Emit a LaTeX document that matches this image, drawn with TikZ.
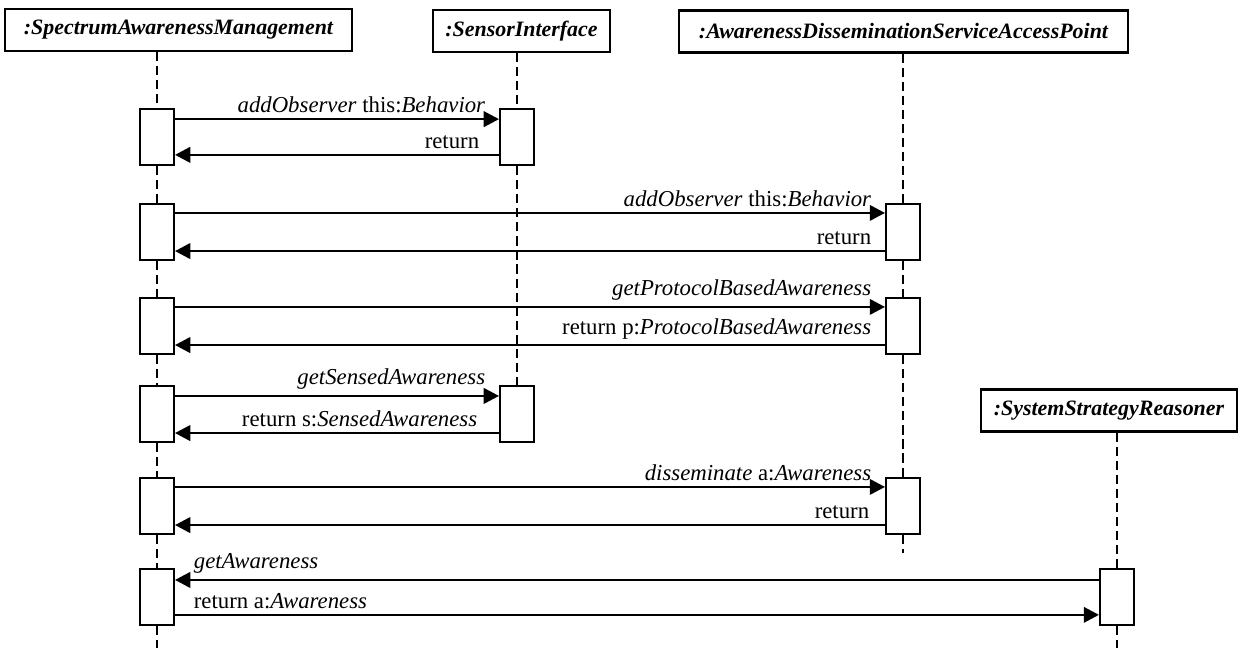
\documentclass[tikz,border=0pt]{standalone}
\usepackage{fontspec}
\setmainfont{Liberation Serif}
\usetikzlibrary{arrows.meta}

\begin{document}
\begin{tikzpicture}[
  x=0.025cm, y=-0.025cm,
  every node/.style={rectangle, sharp corners, align=center, font=\fontsize{16.2}{19}\selectfont},
  object/.style={draw, line width=1.5pt, fill=white, minimum height=1.05cm,
    font=\fontsize{15.6}{18}\selectfont\bfseries\itshape},
  lifeline/.style={dash pattern=on 6.5pt off 3.5pt, line width=1.3pt},
  act/.style={draw, fill=white, line width=1.5pt, minimum width=0.85cm, minimum height=1.4cm},
  msg/.style={-{Triangle[length=3.8mm, width=3.9mm]}, line width=1.4pt},
  lbl/.style={inner sep=2pt, yshift=0.06cm}
]
\useasboundingbox (0,0) rectangle (1241,648);

%% Object heads
\node[object, minimum width=8.675cm] (sam) at (178.5,30) {:SpectrumAwarenessManagement};
\node[object, minimum width=4.425cm] (si) at (521.5,31) {:SensorInterface};
\node[object, minimum width=11.225cm] (adsap) at (903.5,31.5) {:AwarenessDisseminationServiceAccessPoint};
\node[object, minimum width=6.4cm] (ssr) at (1109,410.5) {:SystemStrategyReasoner};

%% Lifeline ends
\coordinate (samEnd) at (157,648);
\coordinate (adEnd) at (903,553);
\coordinate (ssrEnd) at (1117,648);

%% Activations (left: SpectrumAwarenessManagement)
\node[act] (samA1) at (157,137) {};
\node[act] (samA2) at (157,232) {};
\node[act] (samA3) at (157,326) {};
\node[act] (samA4) at (157,414) {};
\node[act] (samA5) at (157,506) {};
\node[act] (samA6) at (157,597) {};

% Activations on the other lifelines
\node[act] (siA1) at (517,137) {};
\node[act] (adA2) at (903,232) {};
\node[act] (adA3) at (903,326) {};
\node[act] (siA4) at (517,414) {};
\node[act] (adA5) at (903,506) {};
\node[act] (ssrA6) at (1117,597) {};

%% Lifelines
\draw[lifeline] (samEnd |- sam.south) -- (samA1.north);
\draw[lifeline] (samA1.south) -- (samA2.north);
\draw[lifeline] (samA2.south) -- (samA3.north);
\draw[lifeline] (samA3.south) -- (samA4.north);
\draw[lifeline] (samA4.south) -- (samA5.north);
\draw[lifeline] (samA5.south) -- (samA6.north);
\draw[lifeline] (samA6.south) -- (samEnd);

\draw[lifeline] (siA1 |- si.south) -- (siA1.north);
\draw[lifeline] (siA1.south) -- (siA4.north);

\draw[lifeline] (adEnd |- adsap.south) -- (adA2.north);
\draw[lifeline] (adA2.south) -- (adA3.north);
\draw[lifeline] (adA3.south) -- (adA5.north);
\draw[lifeline] (adA5.south) -- (adEnd);

\draw[lifeline] (ssrEnd |- ssr.south) -- (ssrA6.north);
\draw[lifeline] (ssrA6.south) -- (ssrEnd);

%% Messages — addObserver on SensorInterface
\draw[msg] ([yshift=-0.28cm]samA1.north east) -- ([yshift=-0.28cm]siA1.north west)
  node[lbl, pos=1, above left, xshift=-0.25cm] {\textit{addObserver} this:\textit{Behavior}};
\draw[msg] ([yshift=0.28cm]siA1.south west) -- ([yshift=0.28cm]samA1.south east)
  node[lbl, pos=0, above left, xshift=-0.4cm] {return};

%% Messages — addObserver on access point
\draw[msg] ([yshift=-0.25cm]samA2.north east) -- ([yshift=-0.25cm]adA2.north west)
  node[lbl, pos=1, above left, xshift=-0.25cm] {\textit{addObserver} this:\textit{Behavior}};
\draw[msg] ([yshift=0.25cm]adA2.south west) -- ([yshift=0.25cm]samA2.south east)
  node[lbl, pos=0, above left, xshift=-0.25cm] {return};

%% Messages — protocol based awareness
\draw[msg] ([yshift=-0.25cm]samA3.north east) -- ([yshift=-0.25cm]adA3.north west)
  node[lbl, pos=1, above left, xshift=-0.25cm] {\textit{getProtocolBasedAwareness}};
\draw[msg] ([yshift=0.25cm]adA3.south west) -- ([yshift=0.25cm]samA3.south east)
  node[lbl, pos=0, above left, xshift=-0.25cm] {return p:\textit{ProtocolBasedAwareness}};

%% Messages — sensed awareness
\draw[msg] ([yshift=-0.275cm]samA4.north east) -- ([yshift=-0.275cm]siA4.north west)
  node[lbl, pos=1, above left, xshift=-0.25cm] {\textit{getSensedAwareness}};
\draw[msg] ([yshift=0.25cm]siA4.south west) -- ([yshift=0.25cm]samA4.south east)
  node[lbl, pos=0, above left, xshift=-0.45cm] {return s:\textit{SensedAwareness}};

%% Messages — disseminate
\draw[msg] ([yshift=-0.25cm]samA5.north east) -- ([yshift=-0.25cm]adA5.north west)
  node[lbl, pos=1, above left, xshift=-0.25cm] {\textit{disseminate} a:\textit{Awareness}};
\draw[msg] ([yshift=0.25cm]adA5.south west) -- ([yshift=0.25cm]samA5.south east)
  node[lbl, pos=0, above left, xshift=-0.3cm] {return};

%% Messages — reasoner asks for awareness
\draw[msg] ([yshift=-0.3cm]ssrA6.north west) -- ([yshift=-0.3cm]samA6.north east)
  node[lbl, pos=1, above right, xshift=0.375cm] {\textit{getAwareness}};
\draw[msg] ([yshift=0.28cm]samA6.south east) -- ([yshift=0.28cm]ssrA6.south west)
  node[lbl, pos=0, above right, xshift=0.375cm] {return a:\textit{Awareness}};

\end{tikzpicture}
\end{document}
